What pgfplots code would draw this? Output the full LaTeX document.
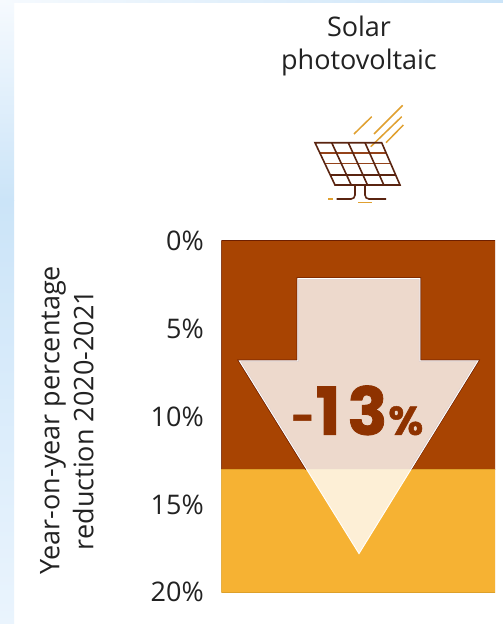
\documentclass[border=0pt]{standalone}
\usepackage{fontspec}
\setmainfont{Open Sans}
\newfontfamily\bigfont[BoldFeatures={FakeBold=1.2}]{Poppins}
\usepackage{pgfplots}
\pgfplotsset{compat=1.18}
\definecolor{brownbar}{HTML}{A84402}
\definecolor{brownedge}{HTML}{6E1F00}
\definecolor{yellowbar}{HTML}{F6B233}
\definecolor{yellowedge}{HTML}{DDA02A}
\definecolor{bignum}{HTML}{8E3200}
\definecolor{raycol}{HTML}{E0A030}
\definecolor{panelcol}{HTML}{5A2410}
\definecolor{panelmid}{HTML}{94431A}
\definecolor{txt}{HTML}{222222}
\definecolor{stripa}{HTML}{F6FAFE}
\definecolor{stripb}{HTML}{CBE4F8}
\definecolor{stripc}{HTML}{EAF4FD}
\begin{document}
\begin{tikzpicture}
% page, pale strips at the edge, heading and panel icon (image pixels)
\begin{scope}[x=1pt,y=-1pt]
\fill[white] (0,0) rectangle (503,624);
\fill[top color=stripa,bottom color=stripb] (0,0) rectangle (14,200);
\fill[top color=stripb,bottom color=stripc] (0,200) rectangle (14,624);
\fill[left color=stripa,right color=stripb] (0,0) rectangle (503,2);
\node[font=\fontsize{27}{33}\selectfont,text=txt,align=center,anchor=center] at (359,46) {Solar\\photovoltaic};
% rays
\begin{scope}[raycol,line width=1.5pt]
\draw (354,134) -- (371.7,116.7);
\draw (374,134) -- (402.7,105.3);
\draw (370.7,146.7) -- (401.7,116.7);
\draw (386,142.7) -- (403.3,125);
\draw (328.3,199) -- (332.7,199);
\draw (358.3,202.7) -- (371.7,202.7);
\end{scope}
% panel
\begin{scope}[panelcol,line width=1.6pt]
\draw[panelmid] (320,152.7) -- (386,152.7);
\draw[panelmid] (325,163.3) -- (391,163.3);
\draw (330,174.7) -- (395.5,174.7);
\draw (331.7,142.7) -- (351.2,185);
\draw (348.3,142.7) -- (367.5,185);
\draw (365,142.7) -- (383.8,185);
\draw (315,142.7) -- (381.7,142.7) -- (400,185) -- (335,185) -- cycle;
\draw (355,185) -- (355,195) to[out=-90,in=0] (351,199) -- (336.7,199);
\draw (365,185) -- (365,195) to[out=-90,in=180] (369,199) -- (386,199);
\end{scope}
\end{scope}
\begin{axis}[
    at={(221.3pt,-592.3pt)},
    anchor=south west,
    scale only axis,
    width=273.7pt,
    height=351.6pt,
    xmin=0, xmax=273.7,
    ymin=0, ymax=20,
    y dir=reverse,
    xtick=\empty,
    ytick={0,5,10,15,20},
    yticklabels={0\%,5\%,10\%,15\%,20\%},
    axis line style={draw=none},
    major tick length=0pt,
    tick label style={font=\fontsize{27}{28}\selectfont,text=txt},
    yticklabel style={xshift=-14pt},
    ylabel={Year-on-year percentage\\reduction 2020-2021},
    ylabel style={at={(axis description cs:-0.564,0.49)},anchor=center,rotate=0,
        align=center,font=\fontsize{27}{34}\selectfont,text=txt},
]
\addplot[ybar,stack plots=y,bar width=273.7,fill=brownbar,draw=brownedge,line width=1pt]
    coordinates {(136.85,13)};
\addplot[ybar,stack plots=y,bar width=273.7,fill=yellowbar,draw=yellowedge,line width=1pt]
    coordinates {(136.85,7)};
% dark rim of the arrow on the brown part
\addplot[sharp plot,no marks,draw=brownedge,line width=2.4pt,stack plots=false]
    coordinates {(85.3,13) (18,6.83) (76.4,6.83) (76.4,2.16) (198.7,2.16) (198.7,6.83) (256.7,6.83) (189.4,13)};
\addplot[sharp plot,no marks,fill=white,fill opacity=0.8,draw=white,line width=0.9pt,stack plots=false]
    coordinates {(76.4,2.16) (198.7,2.16) (198.7,6.83) (256.7,6.83) (137.7,17.8) (18,6.83) (76.4,6.83)} -- cycle;
\node[anchor=base west,inner sep=0pt,text=bignum,font=\bigfont\bfseries\fontsize{66}{66}\selectfont]
    at (axis cs:70,11.04) {\raisebox{3pt}{\fontsize{40}{40}\selectfont-}\kern1pt 1\kern7pt 3\kern1pt{\fontsize{40}{40}\selectfont\%}};
\end{axis}
\end{tikzpicture}
\end{document}
